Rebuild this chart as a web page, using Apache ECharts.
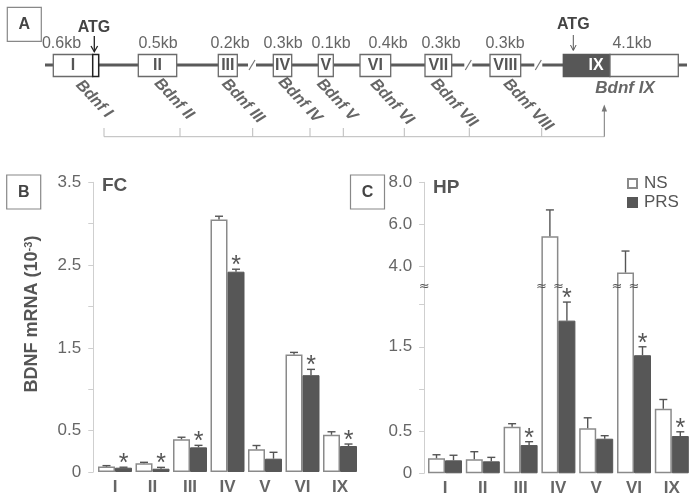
<!DOCTYPE html>
<html><head><meta charset="utf-8">
<script src="https://cdn.jsdelivr.net/npm/echarts@6/dist/echarts.min.js"></script>
<style>html,body{margin:0;padding:0;background:#fff}#c{width:695px;height:498px}</style>
</head><body><div id="c"></div>
<script>
// ---------------- DATA ----------------
const categories = ['I', 'II', 'III', 'IV', 'V', 'VI', 'IX'];
const seriesNames = ['NS', 'PRS'];

// Panel B: frontal cortex (FC)
const fcNS     = [0.065, 0.105, 0.395, 3.05, 0.275, 1.42, 0.45];
const fcNSErr  = [0.012, 0.012, 0.025, 0.04, 0.045, 0.025, 0.036];
const fcPRS    = [0.052, 0.040, 0.298, 2.42, 0.161, 1.17, 0.314];
const fcPRSErr = [0.006, 0.016, 0.024, 0.03, 0.077, 0.07, 0.024];
const fcSig    = [1, 1, 1, 1, 0, 1, 1];

// Panel C: hippocampus (HP)
const hpNS     = [0.178, 0.166, 0.552, 5.44, 0.533, 3.72, 0.765];
const hpNSErr  = [0.042, 0.090, 0.036, 1.25, 0.125, 1.02, 0.110];
const hpPRS    = [0.154, 0.142, 0.335, 1.81, 0.410, 1.40, 0.442];
const hpPRSErr = [0.060, 0.047, 0.040, 0.22, 0.036, 0.10, 0.050];
const hpSig    = [0, 0, 1, 1, 0, 1, 1];

// axis ticks / labels
const fcTickValues  = [0, 0.5, 1, 1.5, 2, 2.5, 3, 3.5];
const fcLabelValues = [0, 0.5, 1.5, 2.5, 3.5];
const fcTickLabels  = ['0', '0.5', '1.5', '2.5', '3.5'];
const hpTickValues  = [0, 0.5, 1, 1.5, 2, 4, 6, 8];
const hpLabelValues = [0, 0.5, 1.5, 4, 6, 8];
const hpTickLabels  = ['0', '0.5', '1.5', '4.0', '6.0', '8.0'];

const yAxisTitle = 'BDNF mRNA (10';
const yAxisTitleSup = '-3';
const panelTitles = ['FC', 'HP'];
const panelLetters = ['A', 'B', 'C'];

// Panel A (gene structure) text content
const exonNames = ['I', 'II', 'III', 'IV', 'V', 'VI', 'VII', 'VIII', 'IX'];
const exonSizes = ['0.6kb', '0.5kb', '0.2kb', '0.3kb', '0.1kb', '0.4kb', '0.3kb', '0.3kb', '4.1kb'];
const transcriptNames = ['Bdnf I', 'Bdnf II', 'Bdnf III', 'Bdnf IV', 'Bdnf V', 'Bdnf VI', 'Bdnf VII', 'Bdnf VIII'];
const codingTranscript = 'Bdnf IX';
const atgText = 'ATG';

// ---------------- LAYOUT / STYLE ----------------
const FONT = "'Liberation Sans Narrow','Liberation Sans',Arial,sans-serif";
const TXT = '#555';
const DARK = '#575757';
const BAR_W = 17;
const FC_GRID_LEFT = 96.25, FC_AXIS_OFFSET = 3;
const HP_GRID_LEFT = 426.1, HP_AXIS_OFFSET = 2;

// broken HP axis: lower part linear up to the break, upper part compressed
function hpScale(v) { return v <= 2.5 ? v : 1.45 + 0.25 * v; }
const HP_BREAK_T = 2.21;

// Panel A layout
const exonX = [[53.3, 92.7], [138.3, 176.7], [218.3, 237.3], [273.3, 291.7], [318.3, 333.3], [360, 390.7], [425, 451.7], [490, 520.7], [563.3, 678.3]];
const sizeLabelX = [61.5, 158, 230, 283, 331, 388, 441, 505, 632];
const nameCenters = [[94, 99], [174, 99], [243, 101], [300, 100], [337, 100], [392, 102], [454, 103], [528, 105]];
const breakX = [252, 468.3, 538.3];
const bracketTicksX = [104, 180, 252.7, 310, 343.3, 404.3, 469.3, 541.7];

const graphics = [];
function txt(x, y, text, o) {
  o = o || {};
  graphics.push({
    type: 'text', x: x, y: y, rotation: o.rot || 0, z: 10,
    style: {
      text: text, fill: o.fill || TXT, fontSize: o.size || 16, fontFamily: o.family || FONT,
      fontWeight: o.weight || 'normal', fontStyle: o.style || 'normal',
      align: o.align || 'center', verticalAlign: 'middle'
    }
  });
}
function line(x1, y1, x2, y2, stroke, w) {
  graphics.push({ type: 'line', z: 5, shape: { x1: x1, y1: y1, x2: x2, y2: y2 }, style: { stroke: stroke, lineWidth: w } });
}
function rect(x, y, w, h, fill, stroke, lw) {
  graphics.push({ type: 'rect', z: 6, shape: { x: x, y: y, width: w, height: h }, style: { fill: fill, stroke: stroke, lineWidth: lw } });
}

// main gene line with breaks
const LY = 65;
let segStart = 45;
breakX.forEach(function (bx) {
  line(segStart, LY, bx - 4, LY, '#5a5a5a', 3);
  line(bx - 3, LY + 5, bx + 3, LY - 5, '#777', 1.2);
  segStart = bx + 4;
});
line(segStart, LY, 687, LY, '#5a5a5a', 3);

// exon boxes
for (let i = 0; i < 8; i++) {
  const a = exonX[i][0], b = exonX[i][1];
  rect(a, 54.5, b - a, 22, '#fff', '#6a6a6a', 1.3);
  txt((a + b) / 2, 66, exonNames[i], { weight: 'bold', size: 16 });
}
// ATG box of exon I
rect(92.7, 54.5, 6, 22, '#fff', '#222', 1.5);
// exon IX
rect(563.3, 54.5, 610 - 563.3, 22, DARK, DARK, 1.3);
rect(610, 54.5, 678.3 - 610, 22, '#fff', '#6a6a6a', 1.3);
line(574.3, 56, 574.3, 75.5, '#ddd', 1.5);
txt(596, 66, exonNames[8], { weight: 'bold', size: 16, fill: '#fff' });

// size labels
exonSizes.forEach(function (s, i) { txt(sizeLabelX[i], 43.5, s, { size: 16, fill: '#666' }); });

// ATG labels and arrows
txt(94, 28, atgText, { weight: 'bold', size: 16, fill: '#444' });
line(94.3, 36, 94.3, 51.5, '#222', 1.3);
graphics.push({ type: 'polyline', z: 7, shape: { points: [[91, 46], [94.3, 51.8], [97.6, 46]] }, style: { stroke: '#222', lineWidth: 1.3, fill: null } });
txt(573.3, 25, atgText, { weight: 'bold', size: 16, fill: '#444' });
line(573.3, 35, 573.3, 50, '#555', 1);
graphics.push({ type: 'polyline', z: 7, shape: { points: [[570.5, 45], [573.3, 50.5], [576.1, 45]] }, style: { stroke: '#555', lineWidth: 1, fill: null } });

// rotated transcript names
transcriptNames.forEach(function (n, i) {
  txt(nameCenters[i][0], nameCenters[i][1], n, { weight: 'bold', style: 'italic', size: 16, fill: '#666', rot: -0.82 });
});
txt(625, 88.5, codingTranscript, { weight: 'bold', style: 'italic', size: 17, fill: '#666' });

// bracket with arrow
line(104, 136.7, 604.3, 136.7, '#bbb', 1);
bracketTicksX.forEach(function (x) { line(x, 128, x, 136.7, '#bbb', 1); });
line(604.3, 136.7, 604.3, 110, '#777', 1);
graphics.push({ type: 'polygon', z: 7, shape: { points: [[601.6, 111.5], [604.3, 104.5], [607, 111.5]] }, style: { fill: '#777' } });

// panel letter boxes
const letterBoxes = [[7.3, 7.3], [6.7, 175], [350.5, 175]];
panelLetters.forEach(function (l, i) {
  rect(letterBoxes[i][0], letterBoxes[i][1], 34, 34, '#fff', '#888', 1.2);
  txt(letterBoxes[i][0] + 17, letterBoxes[i][1] + 17.5, l, { weight: 'bold', size: 16, fill: '#444', family: "'Liberation Sans',Arial,sans-serif" });
});

// y axis title (rotated, with superscript)
graphics.push({
  type: 'text', x: 32, y: 314, rotation: Math.PI / 2, z: 10,
  style: {
    text: '{n|' + yAxisTitle + '}{s|' + yAxisTitleSup + '}{n|)}',
    align: 'center', verticalAlign: 'middle',
    rich: {
      n: { fontSize: 18, fontFamily: FONT, fontWeight: 'bold', fill: TXT, verticalAlign: 'bottom' },
      s: { fontSize: 11, fontFamily: FONT, fontWeight: 'bold', fill: TXT, verticalAlign: 'top' }
    }
  }
});

// ---------------- CHART ----------------
const fmtFromTable = function (vals, labels, scale) {
  return function (v) {
    for (let i = 0; i < vals.length; i++) if (Math.abs(scale(vals[i]) - v) < 1e-6) return labels[i];
    return '';
  };
};
const ident = function (v) { return v; };

function yAxisCfg(gi, max, tickVals, labelVals, labels, scale, offset) {
  return {
    type: 'value', gridIndex: gi, min: 0, max: max, offset: offset,
    splitLine: { show: false },
    axisLine: { show: true, lineStyle: { color: '#cfcfcf', width: 1 } },
    axisTick: { show: true, length: 5, lineStyle: { color: '#cfcfcf' }, customValues: tickVals.map(scale) },
    axisLabel: {
      color: '#666', fontSize: 17, fontFamily: FONT, margin: 12,
      customValues: labelVals.map(scale), formatter: fmtFromTable(labelVals, labels, scale)
    }
  };
}
function xAxisCfg(gi) {
  return {
    type: 'category', gridIndex: gi, data: categories,
    axisLine: { show: false }, axisTick: { show: false },
    axisLabel: { color: '#666', fontSize: 17, fontWeight: 'bold', fontFamily: FONT, margin: 7 }
  };
}

function barSeries(name, gi, vals, scale, isPRS) {
  return {
    name: name, type: 'bar', xAxisIndex: gi, yAxisIndex: gi,
    barWidth: BAR_W, barGap: '0%',
    data: vals.map(scale),
    itemStyle: isPRS ? { color: DARK, borderColor: DARK, borderWidth: 1 }
                     : { color: '#fff', borderColor: '#8a8a8a', borderWidth: 1.5 },
    emphasis: { disabled: true }, z: 2
  };
}

function errSeries(gi, vals, errs, scale, sign) {
  return {
    type: 'custom', xAxisIndex: gi, yAxisIndex: gi, z: 4, silent: true, clip: false,
    data: vals.map(function (v, i) { return [i, scale(v), scale(v + errs[i])]; }),
    renderItem: function (params, api) {
      const p0 = api.coord([api.value(0), api.value(1)]);
      const p1 = api.coord([api.value(0), api.value(2)]);
      const x = p0[0] + sign * BAR_W / 2;
      const st = { stroke: '#555', lineWidth: 1.4 };
      return {
        type: 'group', children: [
          { type: 'line', shape: { x1: x, y1: p0[1], x2: x, y2: p1[1] }, style: st },
          { type: 'line', shape: { x1: x - 4, y1: p1[1], x2: x + 4, y2: p1[1] }, style: st }
        ]
      };
    }
  };
}

function starSeries(gi, vals, errs, sig, scale) {
  const d = [];
  vals.forEach(function (v, i) { if (sig[i]) d.push([i, scale(v + errs[i])]); });
  return {
    type: 'custom', xAxisIndex: gi, yAxisIndex: gi, z: 5, silent: true, clip: false,
    data: d,
    renderItem: function (params, api) {
      const p = api.coord([api.value(0), api.value(1)]);
      return {
        type: 'group', children: [{
          type: 'text', x: p[0] + BAR_W / 2, y: p[1] - 3,
          style: { text: '*', fill: '#555', fontSize: 25, fontFamily: "'Liberation Sans',Arial,sans-serif", align: 'center', verticalAlign: 'middle' }
        }]
      };
    }
  };
}

const breakStyle = { text: '\u2248', fill: '#555', fontSize: 13, fontFamily: "'DejaVu Sans',sans-serif", align: 'center', verticalAlign: 'middle' };
// break marks on the edges of NS bars that cross the axis break
function breakSeries(gi, vals) {
  const d = [];
  vals.forEach(function (v, i) { if (hpScale(v) > HP_BREAK_T) d.push([i, HP_BREAK_T]); });
  return {
    type: 'custom', xAxisIndex: gi, yAxisIndex: gi, z: 6, silent: true, clip: false,
    data: d,
    renderItem: function (params, api) {
      const p = api.coord([api.value(0), api.value(1)]);
      return {
        type: 'group', children: [
          { type: 'text', x: p[0] - BAR_W, y: p[1], style: breakStyle },
          { type: 'text', x: p[0], y: p[1], style: breakStyle }
        ]
      };
    }
  };
}

const hpS = hpScale;
const option = {
  animation: false,
  backgroundColor: '#fff',
  textStyle: { fontFamily: FONT },
  title: [
    { text: panelTitles[0], left: 102, top: 176, padding: 0, textStyle: { fontSize: 19, fontWeight: 'bold', color: TXT, fontFamily: FONT } },
    { text: panelTitles[1], left: 433, top: 178, padding: 0, textStyle: { fontSize: 19, fontWeight: 'bold', color: TXT, fontFamily: FONT } }
  ],
  legend: {
    data: seriesNames, orient: 'vertical', left: 627, top: 175, padding: 0,
    itemWidth: 9, itemHeight: 9, itemGap: 2, selectedMode: false, icon: 'rect',
    textStyle: { color: TXT, fontSize: 17, fontFamily: FONT, padding: [0, 0, 0, 2] }
  },
  grid: [
    { left: FC_GRID_LEFT, top: 182.3, width: 262.5, height: 289.7 },
    { left: HP_GRID_LEFT, top: 182.3, width: 264.6, height: 291 }
  ],
  xAxis: [xAxisCfg(0), xAxisCfg(1)],
  yAxis: [
    yAxisCfg(0, 3.5, fcTickValues, fcLabelValues, fcTickLabels, ident, FC_AXIS_OFFSET),
    yAxisCfg(1, hpScale(8), hpTickValues, hpLabelValues, hpTickLabels, hpS, HP_AXIS_OFFSET)
  ],
  series: [
    barSeries(seriesNames[0], 0, fcNS, ident, false),
    barSeries(seriesNames[1], 0, fcPRS, ident, true),
    barSeries(seriesNames[0], 1, hpNS, hpS, false),
    barSeries(seriesNames[1], 1, hpPRS, hpS, true),
    errSeries(0, fcNS, fcNSErr, ident, -1),
    errSeries(0, fcPRS, fcPRSErr, ident, 1),
    errSeries(1, hpNS, hpNSErr, hpS, -1),
    errSeries(1, hpPRS, hpPRSErr, hpS, 1),
    starSeries(0, fcPRS, fcPRSErr, fcSig, ident),
    starSeries(1, hpPRS, hpPRSErr, hpSig, hpS),
    breakSeries(1, hpNS)
  ],
  graphic: graphics
};

const chart = echarts.init(document.getElementById('c'), null, { renderer: 'canvas' });
chart.setOption(option);

// break mark on the HP y axis line (height taken from the axis' own scale)
const axisBreakPt = chart.convertToPixel({ xAxisIndex: 1, yAxisIndex: 1 }, [0, HP_BREAK_T]);
chart.setOption({
  graphic: graphics.concat([{
    type: 'text', x: HP_GRID_LEFT - HP_AXIS_OFFSET, y: axisBreakPt[1], z: 20,
    style: breakStyle
  }])
});
</script>
</body></html>
